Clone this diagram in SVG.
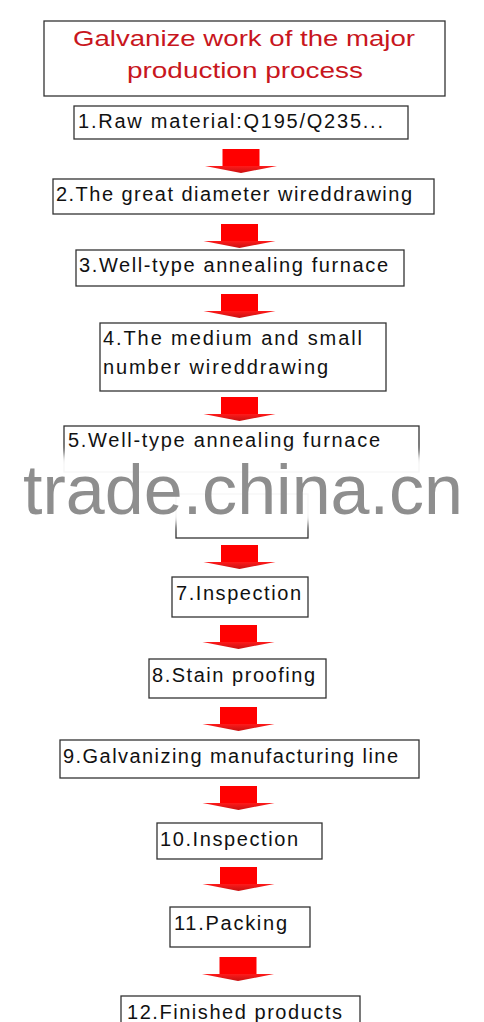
<svg xmlns="http://www.w3.org/2000/svg" xmlns:xlink="http://www.w3.org/1999/xlink" width="484" height="1022" viewBox="0 0 484 1022">
<style>
.box{fill:#fff;stroke:#333;stroke-width:1.3}
.lbl{font-family:"Liberation Sans",Arial,sans-serif;font-size:20px;fill:#111}
.title{font-family:"Liberation Sans",Arial,sans-serif;font-size:22px;fill:#c8161d}
.wm{font-family:"Liberation Sans",Arial,sans-serif;font-size:71px;fill:#8e8e8e}
</style>
<defs>
<linearGradient id="wing" x1="0" y1="0" x2="0" y2="1">
<stop offset="0" stop-color="#ff1a1a"/>
<stop offset="1" stop-color="#c81010"/>
</linearGradient>
<g id="arrow">
<rect x="-18.5" y="0" width="37" height="18" fill="#ff0000"/>
<path d="M-36,17 H36 L0,24 Z" fill="url(#wing)"/>
</g>
<filter id="blur" x="-10%" y="-50%" width="120%" height="200%">
<feGaussianBlur stdDeviation="4"/>
</filter>
</defs>
<rect width="484" height="1022" fill="#fff"/>

<g id="connectors">
<use xlink:href="#arrow" x="241" y="149"/>
<use xlink:href="#arrow" x="239.5" y="224"/>
<use xlink:href="#arrow" x="239.5" y="294"/>
<use xlink:href="#arrow" x="239.5" y="397"/>
<use xlink:href="#arrow" x="239.5" y="545"/>
<use xlink:href="#arrow" x="238.5" y="625"/>
<use xlink:href="#arrow" x="238.5" y="707"/>
<use xlink:href="#arrow" x="238.5" y="786"/>
<use xlink:href="#arrow" x="238.5" y="867"/>
<use xlink:href="#arrow" x="238" y="957"/>
</g>

<g id="title">
<rect class="box" x="44" y="21" width="401" height="75"/>
<text class="title" x="73" y="46" textLength="342" lengthAdjust="spacingAndGlyphs">Galvanize work of the major</text>
<text class="title" x="127" y="78" textLength="236" lengthAdjust="spacingAndGlyphs">production process</text>
</g>

<g id="n1">
<rect class="box" x="74" y="106" width="334" height="33"/>
<text class="lbl" x="78" y="128" textLength="305" lengthAdjust="spacing">1.Raw material:Q195/Q235...</text>
</g>
<g id="n2">
<rect class="box" x="53" y="179" width="381" height="35"/>
<text class="lbl" x="56" y="201" textLength="356" lengthAdjust="spacing">2.The great diameter wireddrawing</text>
</g>
<g id="n3">
<rect class="box" x="76" y="250" width="328" height="36"/>
<text class="lbl" x="79" y="272" textLength="309" lengthAdjust="spacing">3.Well-type annealing furnace</text>
</g>
<g id="n4">
<rect class="box" x="100" y="323" width="286" height="68"/>
<text class="lbl" x="103" y="345" textLength="259" lengthAdjust="spacing">4.The medium and small</text>
<text class="lbl" x="103" y="374" textLength="225" lengthAdjust="spacing">number  wireddrawing</text>
</g>
<g id="n5">
<rect class="box" x="64" y="426" width="355" height="46"/>
<text class="lbl" x="68" y="447" textLength="312" lengthAdjust="spacing">5.Well-type annealing furnace</text>
</g>
<g id="n6">
<rect class="box" x="176" y="494" width="132" height="44"/>
</g>

<g id="watermark">
<rect x="0" y="454" width="484" height="70" fill="#fff" opacity="0.96" filter="url(#blur)"/>
<text class="wm" x="23" y="514" textLength="440" lengthAdjust="spacingAndGlyphs">trade.china.cn</text>
</g>

<g id="n7">
<rect class="box" x="172" y="577" width="136" height="40"/>
<text class="lbl" x="176" y="600" textLength="125" lengthAdjust="spacing">7.Inspection</text>
</g>
<g id="n8">
<rect class="box" x="149" y="659" width="177" height="39"/>
<text class="lbl" x="152" y="682" textLength="163" lengthAdjust="spacing">8.Stain proofing</text>
</g>
<g id="n9">
<rect class="box" x="60" y="740" width="359" height="38"/>
<text class="lbl" x="63" y="763" textLength="335" lengthAdjust="spacing">9.Galvanizing manufacturing line</text>
</g>
<g id="n10">
<rect class="box" x="157" y="823" width="165" height="36"/>
<text class="lbl" x="160" y="846" textLength="138" lengthAdjust="spacing">10.Inspection</text>
</g>
<g id="n11">
<rect class="box" x="170" y="907" width="140" height="40"/>
<text class="lbl" x="174" y="930" textLength="113" lengthAdjust="spacing">11.Packing</text>
</g>
<g id="n12">
<rect class="box" x="121" y="996" width="239" height="40"/>
<text class="lbl" x="127" y="1019" textLength="215" lengthAdjust="spacing">12.Finished products</text>
</g>
</svg>
